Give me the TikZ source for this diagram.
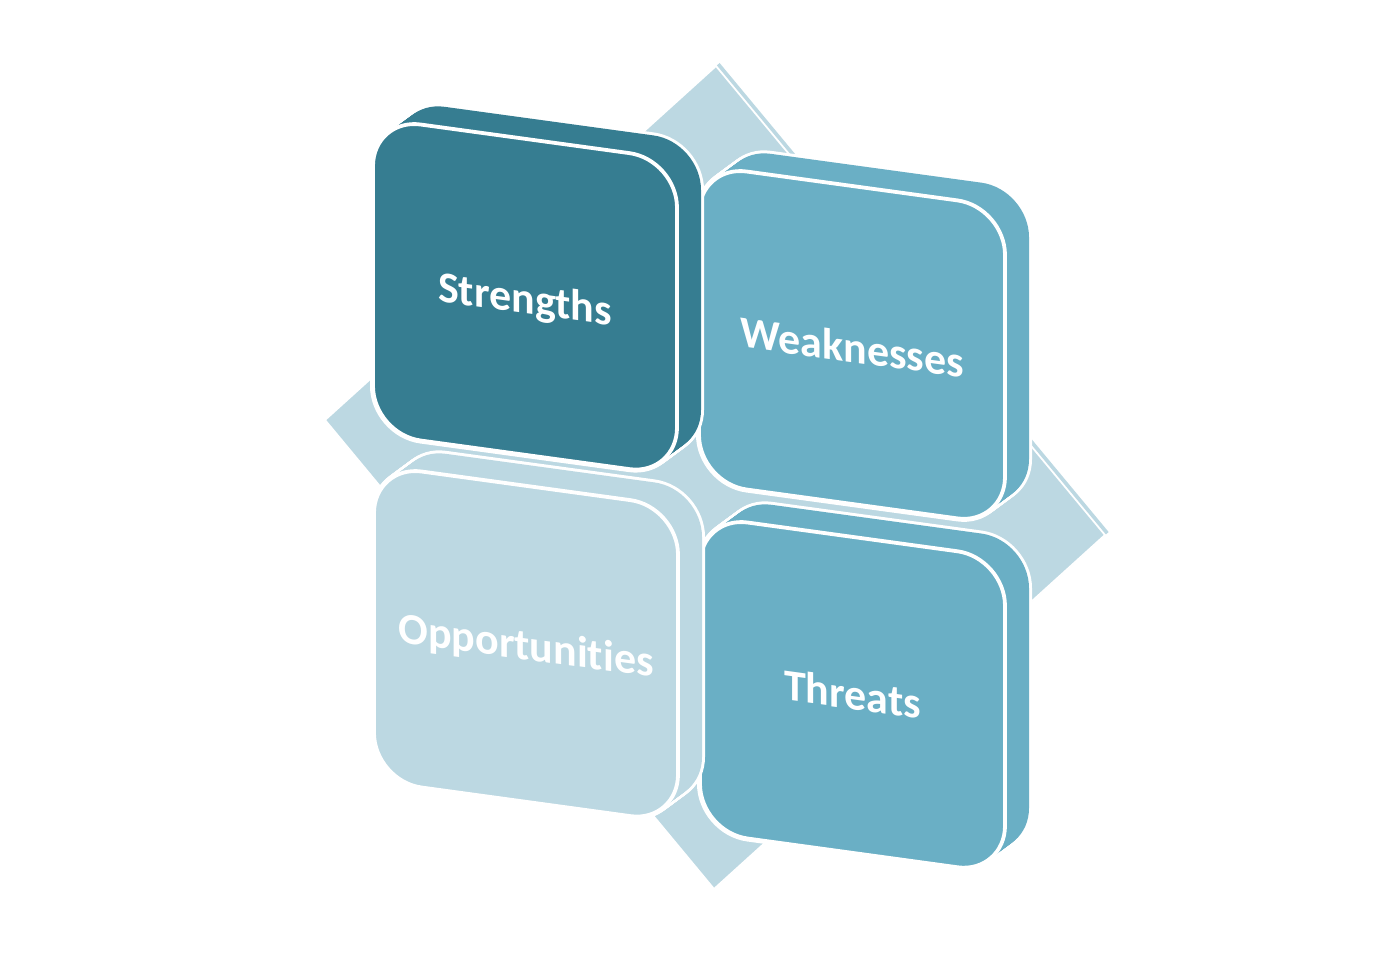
\documentclass[tikz,border=0pt]{standalone}
\usepackage{fontspec}
\setmainfont{Carlito}[Ligatures=NoCommon]
\usetikzlibrary{calc}
\definecolor{cdark}{RGB}{54,125,145}
\definecolor{cmid}{RGB}{106,175,197}
\definecolor{clight}{RGB}{188,216,226}
\tikzset{
  halo/.style={draw=white,line width=6pt,rounded corners=48pt},
  body/.style={rounded corners=48pt},
  face/.style={draw=white,line width=3.8pt,rounded corners=48pt},
  label/.style={text=white,font=\fontsize{44}{50}\selectfont\bfseries,transform shape},
  shear/.style={cm={1,-0.137,0,1,(0,0)}}
}
\newcommand\swotbox[8]{%
  \begin{scope}[shift={(#1,#2)},shear]
    \foreach \t in {0,0.05,...,1.01}{\path[halo] ({24*\t},{-21*\t}) rectangle +(#3,#4);}
    \foreach \t in {0,0.05,...,1.01}{\fill[#5,body] ({24*\t},{-21*\t}) rectangle +(#3,#4);}
    \path[face,fill=#5] (0,0) rectangle (#3,#4);
    \node[label] (#6) at ({#3/2},{#4/2+#8}) {#7};
  \end{scope}}
\begin{document}
\begin{tikzpicture}[x=1pt,y=-1pt]
\fill[white] (0,0) rectangle (1374,955);
\useasboundingbox (0,0) rectangle (1374,955);
% background diamond
\coordinate (dT) at (716,66);
\coordinate (dR) at (1105,535);
\coordinate (dB) at (714,889);
\coordinate (dL) at (325,420);
\coordinate (off) at (3.6,-3);
\fill[clight] ($(dT)+(off)$) -- ($(dR)+(off)$) -- ($(dB)+(off)$) -- ($(dL)+(off)$) -- cycle;
\fill[clight,draw=white,line width=1.8pt] (dT) -- (dR) -- (dB) -- (dL) -- cycle;
% boxes
\swotbox{699}{165}{306}{318}{cmid}{W}{Weaknesses}{2}
\swotbox{373}{118}{304}{316}{cdark}{S}{Strengths}{5}
\swotbox{700}{516}{305}{316}{cmid}{T}{Threats}{-1}
\swotbox{374}{465}{304}{316}{clight}{O}{Opportunities}{4}
\end{tikzpicture}
\end{document}
